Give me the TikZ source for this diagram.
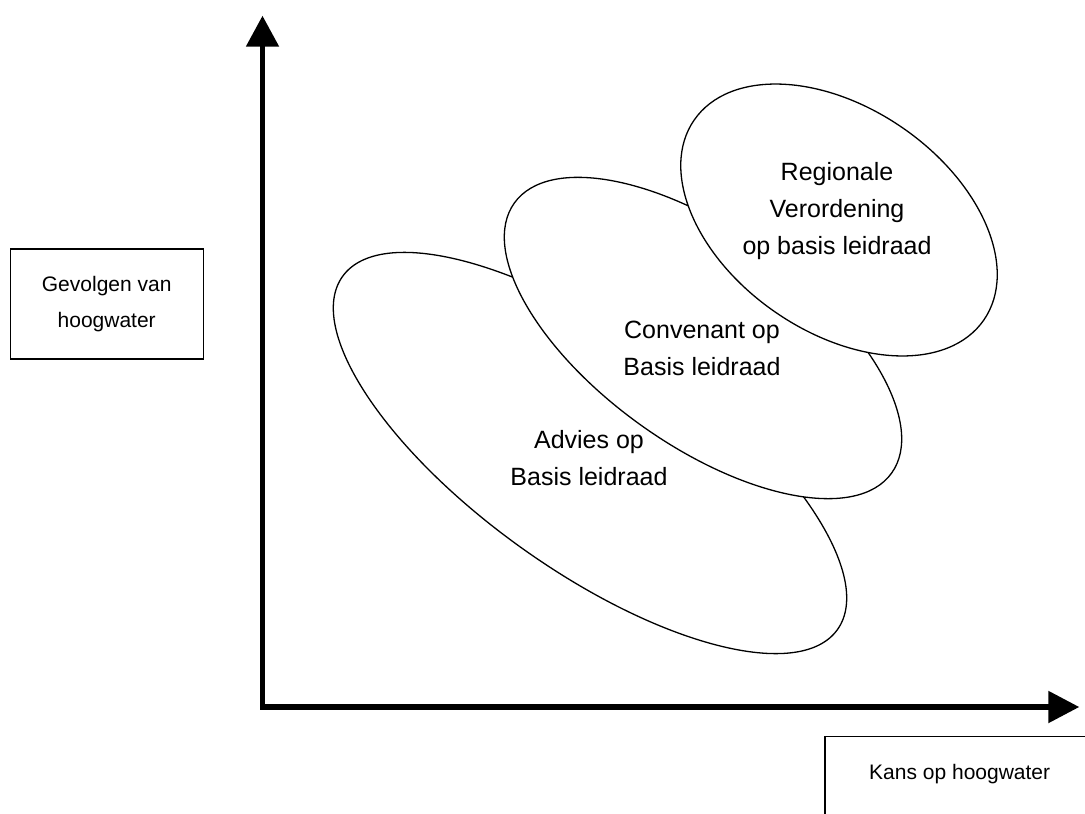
\documentclass[tikz,border=0pt]{standalone}
\usepackage{fontspec}
\setmainfont{Liberation Sans}
\usetikzlibrary{arrows.meta,shapes.geometric}
\begin{document}
\begin{tikzpicture}[x=1pt,y=-1pt,
  axis/.style={line width=5.3pt, line join=miter,
    arrows={Triangle[length=31pt,width=32pt]-Triangle[length=31pt,width=31pt]}},
  oval/.style={ellipse, draw, fill=white, line width=1.3pt, inner sep=0pt, outer sep=0pt},
  lbl/.style={align=center, font=\fontsize{25}{37}\selectfont, inner sep=0pt},
  boxtxt/.style={align=center, font=\fontsize{21}{36.7}\selectfont, inner sep=0pt},
  frame/.style={draw, line width=1.1pt, inner sep=0pt, outer sep=0pt}]
\useasboundingbox (0,0) rectangle (1085,814);
\clip (0,0) rectangle (1085,814);
\fill[white] (0,0) rectangle (1085,814);

% axes
\coordinate (o) at (262.5,707);
\coordinate (ytip) at (262.5,15.7);
\coordinate (xtip) at (1079.3,707);
\draw[axis] (ytip) -- (o) -- (xtip);

% boxes
\node[frame, boxtxt, minimum width=193pt, minimum height=110pt] (gevolgen) at (106.7,304) {Gevolgen van\\hoogwater};
\node[frame, anchor=north west, minimum width=290pt, minimum height=110pt] (kansbox) at (825,736.7) {};
\node[boxtxt] (kans) at (959.7,773.9) {Kans op hoogwater};

% ellipses
\node[oval, rotate=-35.5, minimum width=608pt, minimum height=234pt] (advies) at (590,453) {};
\node[oval, rotate=-35.6, minimum width=464pt, minimum height=214pt] (convenant) at (703,338) {};
\node[oval, rotate=-34.6, minimum width=352pt, minimum height=224pt] (regionale) at (839,220) {};

% labels
\node[lbl] (adviestxt) at (589,458) {Advies op\\Basis leidraad};
\node[lbl] (convenanttxt) at (702,348.6) {Convenant op\\Basis leidraad};
\node[lbl] (regionaletxt) at (837,211) {Regionale\\Verordening\\op basis leidraad};
\end{tikzpicture}
\end{document}
